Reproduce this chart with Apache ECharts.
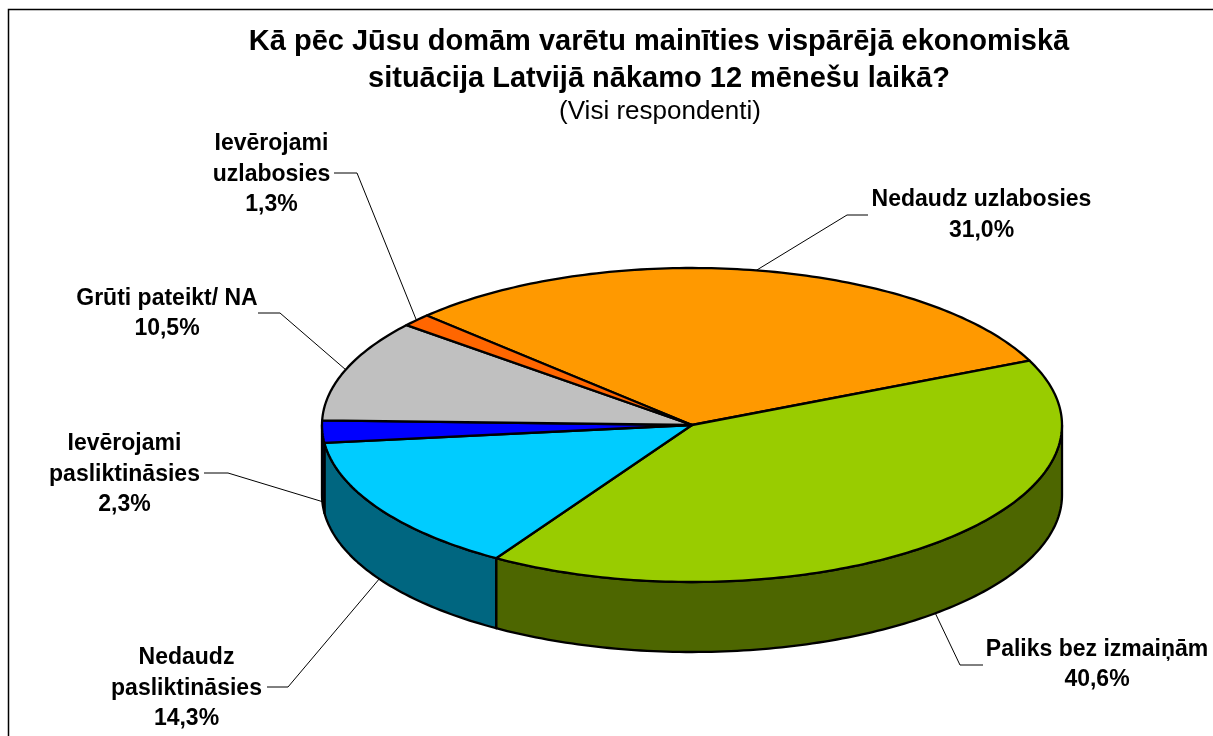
<!DOCTYPE html>
<html><head><meta charset="utf-8">
<style>html,body{margin:0;padding:0;background:#fff}#c{width:1213px;height:736px}</style>
<script src="https://cdn.jsdelivr.net/npm/echarts@6/dist/echarts.min.js"></script>
</head><body><div id="c"></div>
<script>
const categories = ['Nedaudz uzlabosies','Paliks bez izmaiņām','Nedaudz pasliktināsies','Ievērojami pasliktināsies','Grūti pateikt/ NA','Ievērojami uzlabosies'];
const displayNames = ['Nedaudz uzlabosies','Paliks bez izmaiņām','Nedaudz\npasliktināsies','Ievērojami\npasliktināsies','Grūti pateikt/ NA','Ievērojami\nuzlabosies'];
const values = [31.0,40.6,14.3,2.3,10.5,1.3];
const topColors = ['#ff9900','#99cc00','#00ccff','#0000ff','#c0c0c0','#ff6600'];
const sideColors = ['#804d00','#4d6600','#006680','#000080','#606060','#803300'];
const titleLines = ['Kā pēc Jūsu domām varētu mainīties vispārējā ekonomiskā','situācija Latvijā nākamo 12 mēnešu laikā?'];
const subtitle = '(Visi respondenti)';

// layout only
const pie = {cx:692, cy:425, rx:370, ry:157, depth:70, start:-45.8};
const labelCentre = [[981.5,215],[1097,664.5],[186.5,688.5],[124.5,474.5],[167,313.5],[271.5,174.5]];
const elbows = [[[868,215],[847,215]],[[983,665],[960,665]],[[267,687],[288,687]],[[204,473],[228,473]],[[258,313],[280,313]],[[334,173],[357,173]]];

const total = values.reduce((a,b)=>a+b,0);
const starts = []; let acc = pie.start;
values.forEach(v=>{starts.push(acc); acc += v/total*360;});
const rad = d=>d*Math.PI/180;
const pt = (deg,dy=0)=>[pie.cx+pie.rx*Math.sin(rad(deg)), pie.cy-pie.ry*Math.cos(rad(deg))+dy];
const arc = (a,b,dy=0)=>{const out=[];const n=Math.max(2,Math.ceil(Math.abs(b-a)));for(let i=0;i<=n;i++)out.push(pt(a+(b-a)*i/n,dy));return out;};
const spanOf = (i,v)=>[starts[i],starts[i]+v/total*360];

function renderSide(p,api){
  const i=p.dataIndex,[a,b]=spanOf(i,api.value(0));
  const s=Math.max(a,90),e=Math.min(b,270);
  if(e<=s) return {type:'group',children:[]};
  return {type:'polygon',shape:{points:arc(s,e).concat(arc(e,s,pie.depth))},
    style:{fill:sideColors[i],stroke:'#000',lineWidth:2.3,lineJoin:'round'}};
}
function renderTop(p,api){
  const i=p.dataIndex,[a,b]=spanOf(i,api.value(0));
  return {type:'polygon',shape:{points:[[pie.cx,pie.cy]].concat(arc(a,b))},
    style:{fill:topColors[i],stroke:'#000',lineWidth:2.3,lineJoin:'round'}};
}
function renderLabel(p,api){
  const i=p.dataIndex,v=api.value(0),[a,b]=spanOf(i,v),mid=(a+b)/2;
  const front=mid>90&&mid<270;
  const end=pt(mid,front?pie.depth:0);
  return {type:'group',children:[
    {type:'polyline',shape:{points:elbows[i].concat([end])},style:{fill:'none',stroke:'#000',lineWidth:1}},
    {type:'text',style:{text:displayNames[i]+'\n'+v.toFixed(1).replace('.',',')+'%',
      x:labelCentre[i][0],y:labelCentre[i][1],align:'center',verticalAlign:'middle',
      font:'bold 23px "Liberation Sans"',lineHeight:30.5,fill:'#000'}}
  ]};
}
const seriesData = values.map((v,i)=>({name:categories[i],value:[v]}));
const chart = echarts.init(document.getElementById('c'),null,{renderer:'canvas'});
chart.setOption({
  animation:false,
  backgroundColor:'#fff',
  title:[
    {text:titleLines[0],left:654,top:22,textAlign:'center',textStyle:{fontFamily:'Liberation Sans',fontWeight:'bold',fontSize:29,color:'#000'}},
    {text:titleLines[1],left:654,top:59,textAlign:'center',textStyle:{fontFamily:'Liberation Sans',fontWeight:'bold',fontSize:29,color:'#000'}},
    {text:subtitle,left:655,top:94,textAlign:'center',textStyle:{fontFamily:'Liberation Sans',fontWeight:'normal',fontSize:26,color:'#000'}}
  ],
  graphic:[{type:'polyline',shape:{points:[[8.5,736],[8.5,9.5],[1213,9.5]]},style:{fill:'none',stroke:'#000',lineWidth:1.5},silent:true}],
  series:[
    {type:'custom',coordinateSystem:'none',renderItem:renderSide,data:seriesData,silent:true,z:1},
    {type:'custom',coordinateSystem:'none',renderItem:renderTop,data:seriesData,silent:true,z:2},
    {type:'custom',coordinateSystem:'none',renderItem:renderLabel,data:seriesData,silent:true,z:3}
  ]
});
</script></body></html>
